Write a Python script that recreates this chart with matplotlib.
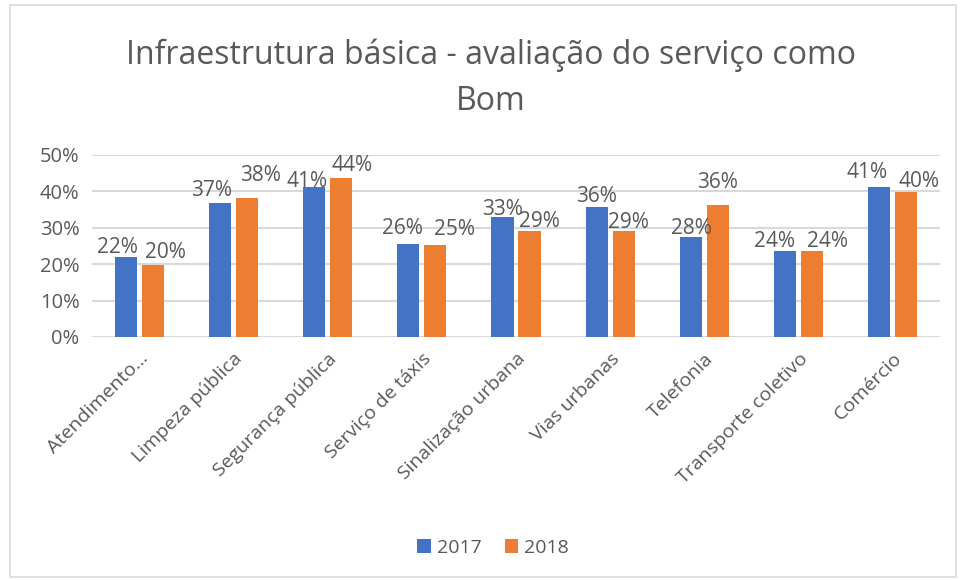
import matplotlib.pyplot as plt
import numpy as np
from matplotlib.patches import Rectangle

# data
categories = ['Atendimento...', 'Limpeza pública', 'Segurança pública', 'Serviço de táxis',
              'Sinalização urbana', 'Vias urbanas', 'Telefonia', 'Transporte coletivo', 'Comércio']
v2017 = [22.0, 36.8, 41.3, 25.6, 32.9, 35.7, 27.6, 23.7, 41.3]
v2018 = [19.9, 38.2, 43.8, 25.4, 29.0, 29.0, 36.4, 23.7, 39.9]
yticks = [0, 10, 20, 30, 40, 50]

# label nudges (pixels) as placed in the original chart
dx17 = [-8, -8, -7, -6, 0, 0, 0, -11, -12]
dy17 = [4, 7, 0, 10, 2, 5, 3, 4, 9]
dx18 = [13, 14, 11, 19, 10, 5, 0, 15, 13]
dy18 = [7, 17, 7, 10, 4, 3, 17, 4, 5]

plt.rcParams['font.family'] = ['Open Sans', 'DejaVu Sans']
txt = '#595959'
blue = '#4472C4'
orange = '#ED7D31'

fig = plt.figure(figsize=(9.66, 5.8), dpi=100)
ax = fig.add_axes([92/966, 1-337/580, (940-92)/966, (337-155)/580])

x = np.arange(len(categories))
w = 0.235
off = 0.143
b1 = ax.bar(x - off, v2017, w, color=blue, label='2017', zorder=3)
b2 = ax.bar(x + off, v2018, w, color=orange, label='2018', zorder=3)

for bars, vals, dxs, dys in [(b1, v2017, dx17, dy17), (b2, v2018, dx18, dy18)]:
    for b, v, ddx, ddy in zip(bars, vals, dxs, dys):
        ax.annotate('%d%%' % round(v), (b.get_x() + b.get_width()/2, v),
                    xytext=(ddx, ddy), textcoords='offset pixels',
                    ha='center', va='baseline', fontsize=15, color=txt, zorder=4)

ax.set_xlim(-0.5, len(categories) - 0.5)
ax.set_ylim(0, 50)
ax.set_yticks(yticks)
ax.set_yticklabels(['%d%%' % t for t in yticks], fontsize=14.5, color=txt)
ax.set_xticks(x)
ax.set_xticklabels(categories, rotation=45, ha='right', rotation_mode='anchor',
                   fontsize=14, color=txt)
ax.tick_params(length=0, pad=9)
ax.yaxis.grid(True, color='#D9D9D9', linewidth=1.5, zorder=0)
for s in ax.spines.values():
    s.set_visible(False)

fig.text(491/966, 1-55/580, 'Infraestrutura básica - avaliação do serviço como',
         ha='center', va='center', fontsize=23, color=txt)
fig.text(491/966, 1-102/580, 'Bom', ha='center', va='center', fontsize=23, color=txt)

fig.legend(loc='center', bbox_to_anchor=(493/966, 1-548/580), ncol=2, frameon=False,
           fontsize=14, labelcolor=txt, handlelength=0.7, handleheight=0.7,
           handletextpad=0.3, columnspacing=1.2)

fig.patches.append(Rectangle((10/966, 3/580), 946/966, 572/580, transform=fig.transFigure,
                             fill=False, edgecolor='#D9D9D9', linewidth=1.2))

plt.savefig('out.png', dpi=100)
